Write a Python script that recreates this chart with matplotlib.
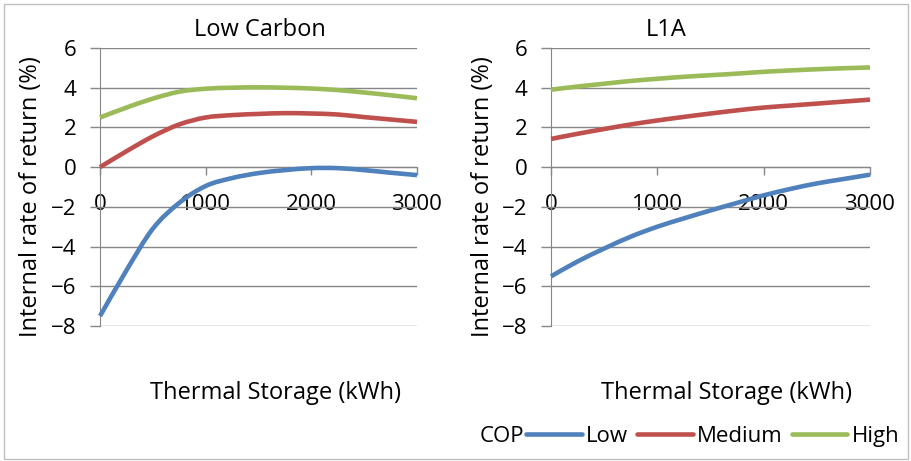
import matplotlib
matplotlib.use("Agg")
import matplotlib.pyplot as plt
from matplotlib.patches import Rectangle, PathPatch
from matplotlib.path import Path
from matplotlib.lines import Line2D

plt.rcParams['font.family'] = ['Open Sans', 'DejaVu Sans']

storage = [0, 250, 500, 750, 1000, 1250, 1500, 1750, 2000, 2250, 2500, 2750, 3000]

# Low Carbon tariff
lc_low = [-7.5, -5.2, -3.1, -1.8, -0.95, -0.55, -0.3, -0.15, -0.05, -0.05, -0.15, -0.28, -0.4]
lc_medium = [0.0, 0.8, 1.55, 2.15, 2.5, 2.62, 2.68, 2.72, 2.7, 2.65, 2.52, 2.4, 2.28]
lc_high = [2.5, 3.0, 3.45, 3.8, 3.95, 4.0, 4.02, 4.0, 3.96, 3.88, 3.76, 3.62, 3.47]

# L1A tariff
l1a_low = [-5.5, -4.75, -4.1, -3.5, -3.0, -2.58, -2.18, -1.8, -1.42, -1.1, -0.82, -0.6, -0.38]
l1a_medium = [1.42, 1.68, 1.92, 2.15, 2.35, 2.53, 2.7, 2.86, 3.0, 3.1, 3.2, 3.3, 3.4]
l1a_high = [3.9, 4.06, 4.2, 4.34, 4.45, 4.55, 4.63, 4.71, 4.8, 4.87, 4.93, 4.98, 5.02]

titles = ['Low Carbon', 'L1A']
series_names = ['Low', 'Medium', 'High']
colors = ['#4F81BD', '#C0504D', '#9BBB59']
yticks = [-8, -6, -4, -2, 0, 2, 4, 6]
xticks = [0, 1000, 2000, 3000]

grid_col = '#868686'
LW = 3.3
FS = 16
FS_LAB = 17


def smooth_path(xs, ys):
    # excel style smoothed line: bezier segments through every point
    verts = [(xs[0], ys[0])]
    codes = [Path.MOVETO]
    n = len(xs)
    for i in range(n - 1):
        x0, y0 = (xs[i - 1], ys[i - 1]) if i > 0 else (xs[i], ys[i])
        x3, y3 = (xs[i + 2], ys[i + 2]) if i + 2 < n else (xs[i + 1], ys[i + 1])
        c1 = (xs[i] + (xs[i + 1] - x0) / 6, ys[i] + (ys[i + 1] - y0) / 6)
        c2 = (xs[i + 1] - (x3 - xs[i]) / 6, ys[i + 1] - (y3 - ys[i]) / 6)
        verts += [c1, c2, (xs[i + 1], ys[i + 1])]
        codes += [Path.CURVE4] * 3
    return Path(verts, codes)


fig = plt.figure(figsize=(9.12, 4.61), dpi=100)

# outer chart border
fig.patches.append(Rectangle((4 / 912, 2 / 461), 904 / 912, 455 / 461, transform=fig.transFigure,
                             fill=False, edgecolor='#BFBFBF', linewidth=1.0))

ax_left = fig.add_axes([100 / 912, 1 - 326 / 461, 317 / 912, 278 / 461])
ax_right = fig.add_axes([551 / 912, 1 - 326 / 461, 319 / 912, 278 / 461])

panels = [(ax_left, [lc_low, lc_medium, lc_high]),
          (ax_right, [l1a_low, l1a_medium, l1a_high])]

for ax, data in panels:
    for vals, c in zip(data, colors):
        ax.add_patch(PathPatch(smooth_path(storage, vals), fill=False, edgecolor=c,
                               lw=LW, capstyle='butt', zorder=3, clip_on=False))
    ax.set_xlim(0, 3000)
    ax.set_ylim(-8, 6)
    ax.set_yticks(yticks)
    ax.set_xticks(xticks)
    ax.grid(axis='y', color=grid_col, lw=1.0)
    ax.set_axisbelow(True)
    ax.spines['top'].set_visible(False)
    ax.spines['right'].set_visible(False)
    ax.spines['bottom'].set_position(('data', 0))
    ax.spines['left'].set_color(grid_col)
    ax.spines['bottom'].set_color(grid_col)
    ax.tick_params(axis='y', colors=grid_col, length=7, width=1, labelsize=FS,
                   labelcolor='black', pad=10)
    ax.tick_params(axis='x', colors=grid_col, length=6, width=1, labelsize=FS,
                   labelcolor='black', pad=13)
    ax.patch.set_alpha(0)

# titles and axis labels
fig.text(260 / 912, 1 - 30 / 461, titles[0], ha='center', va='center', fontsize=FS_LAB)
fig.text(666 / 912, 1 - 30 / 461, titles[1], ha='center', va='center', fontsize=FS_LAB)
for xc in (31, 483):
    fig.text(xc / 912, 1 - 197 / 461, 'Internal rate of return (%)', rotation=90,
             ha='center', va='center', fontsize=FS_LAB)
for xc in (275, 727):
    fig.text(xc / 912, 1 - 393 / 461, 'Thermal Storage (kWh)', ha='center', va='center',
             fontsize=FS_LAB)

# legend along the bottom
handles = [Line2D([], [], color=c, lw=LW, solid_capstyle='round') for c in colors]
fig.text(480 / 912, 1 - 436 / 461, 'COP', ha='left', va='center', fontsize=FS)
fig.legend(handles, series_names, loc='center left', bbox_to_anchor=(526 / 912, 1 - 436 / 461),
           ncol=3, frameon=False, fontsize=FS, handlelength=2.5, handletextpad=0.2,
           columnspacing=0.4, borderaxespad=0, borderpad=0)

fig.savefig('out.png', dpi=100)
